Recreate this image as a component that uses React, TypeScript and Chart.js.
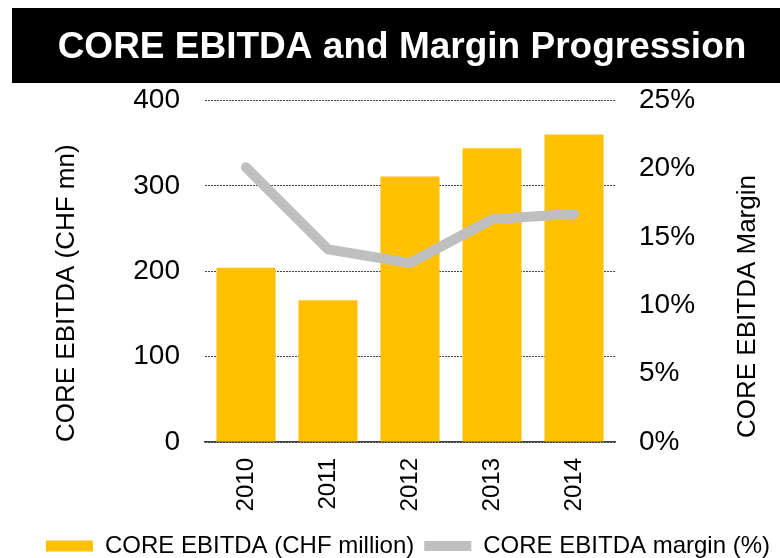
import React, { useEffect, useRef } from "react";
import { Chart, registerables } from "chart.js";

Chart.register(...registerables);

const categories = ["2010", "2011", "2012", "2013", "2014"];
const ebitdaValues = [204, 166, 311, 344, 360];
const marginValues = [20.1, 14.1, 13.1, 16.3, 16.7];
const titleText = "CORE EBITDA and Margin Progression";
const leftAxisTitle = "CORE EBITDA (CHF mn)";
const rightAxisTitle = "CORE EBITDA Margin";
const barLabel = "CORE EBITDA (CHF million)";
const lineLabel = "CORE EBITDA margin (%)";

const FONT = '"Liberation Sans", Arial, sans-serif';

const titleBoxPlugin = {
  id: "titleBox",
  beforeDraw(chart: any) {
    const ctx = chart.ctx;
    ctx.save();
    ctx.fillStyle = "#000000";
    ctx.fillRect(12, 8, chart.width - 12, 75);
    ctx.restore();
  },
};

const rightTitlePlugin = {
  id: "rightTitle",
  afterDraw(chart: any) {
    const ctx = chart.ctx;
    const area = chart.chartArea;
    ctx.save();
    ctx.font = `26px ${FONT}`;
    ctx.fillStyle = "#000000";
    ctx.textAlign = "left";
    ctx.textBaseline = "middle";
    ctx.translate(748, area.bottom - 4);
    ctx.rotate(-Math.PI / 2);
    ctx.fillText(rightAxisTitle, 0, 0);
    ctx.restore();
  },
};

export default function App() {
  const canvasRef = useRef<HTMLCanvasElement | null>(null);

  useEffect(() => {
    if (!canvasRef.current) return;
    const chart = new Chart(canvasRef.current, {
      type: "bar",
      data: {
        labels: categories,
        datasets: [
          {
            type: "bar",
            label: barLabel,
            data: ebitdaValues,
            backgroundColor: "#FFC000",
            borderWidth: 0,
            barPercentage: 0.72,
            categoryPercentage: 1,
            yAxisID: "y",
            order: 1,
            pointStyle: "rect",
          } as any,
          {
            type: "line",
            label: lineLabel,
            data: marginValues,
            borderColor: "#BFBFBF",
            backgroundColor: "#BFBFBF",
            borderWidth: 10,
            borderCapStyle: "round",
            borderJoinStyle: "round",
            pointRadius: 0,
            pointHoverRadius: 0,
            tension: 0,
            yAxisID: "y1",
            order: 0,
            pointStyle: "line",
          } as any,
        ],
      },
      options: {
        animation: false,
        responsive: false,
        maintainAspectRatio: false,
        layout: { padding: { top: 8, left: 24, right: 0, bottom: -10 } },
        plugins: {
          title: {
            display: true,
            text: titleText,
            color: "#FFFFFF",
            font: { family: FONT, size: 37, weight: "bold" },
            padding: { top: 18, bottom: 30 },
          },
          legend: {
            display: true,
            position: "bottom",
            align: "end",
            labels: {
              usePointStyle: true,
              pointStyleWidth: 47,
              boxHeight: 11,
              padding: 10,
              color: "#000000",
              font: { family: FONT, size: 24 },
              sort: (a: any, b: any) => a.datasetIndex - b.datasetIndex,
            },
          },
          tooltip: { enabled: false },
        },
        scales: {
          x: {
            grid: { display: false, drawTicks: false },
            border: { display: true, color: "#404040", width: 1.5 },
            ticks: {
              color: "#000000",
              font: { family: FONT, size: 24 },
              minRotation: 90,
              maxRotation: 90,
              autoSkip: false,
              padding: 16,
            },
            afterFit(scale: any) {
              scale.height = 82;
            },
          },
          y: {
            position: "left",
            min: 0,
            max: 400,
            ticks: {
              stepSize: 100,
              color: "#000000",
              font: { family: FONT, size: 28 },
              padding: 25,
            },
            grid: {
              color: "#444444",
              lineWidth: 1,
              drawTicks: false,
            },
            border: { display: false, dash: [2, 1] },
            title: {
              display: true,
              text: leftAxisTitle,
              color: "#000000",
              align: "start",
              font: { family: FONT, size: 26 },
              padding: { top: 27, bottom: 0 },
            },
            afterFit(scale: any) {
              scale.width = 181;
            },
          },
          y1: {
            position: "right",
            min: 0,
            max: 25,
            ticks: {
              stepSize: 5,
              color: "#000000",
              font: { family: FONT, size: 28 },
              padding: 24,
              callback: (v: any) => `${v}%`,
            },
            grid: { display: false, drawTicks: false },
            border: { display: false },
            afterFit(scale: any) {
              scale.width = 165;
            },
          },
        },
      },
      plugins: [titleBoxPlugin, rightTitlePlugin],
    });
    return () => chart.destroy();
  }, []);

  return (
    <div style={{ position: "absolute", left: 0, top: 0, width: 780, height: 558 }}>
      <canvas ref={canvasRef} width={780} height={558} style={{ width: 780, height: 558, display: "block" }} />
    </div>
  );
}
